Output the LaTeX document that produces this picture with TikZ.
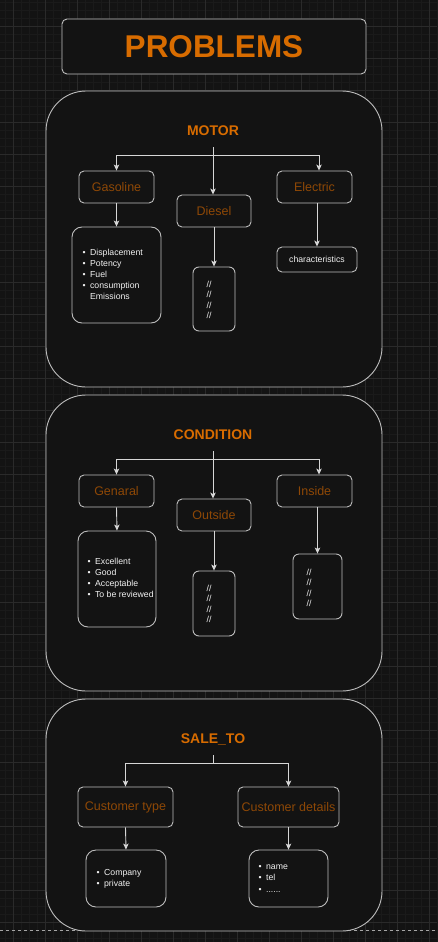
\documentclass[tikz,border=0pt]{standalone}
\usepackage{fontspec}
\setmainfont{Liberation Sans}
\usetikzlibrary{arrows.meta}
\definecolor{bg}{HTML}{131313}
\definecolor{gridminor}{HTML}{1A1A1A}
\definecolor{gridmajor}{HTML}{2A2A2A}
\definecolor{edge}{HTML}{BDBDBD}
\definecolor{arrc}{HTML}{D6D6D6}
\definecolor{orng}{HTML}{D86C00}
\definecolor{brwn}{HTML}{8E4806}
\definecolor{txtc}{HTML}{F2F2F2}
\begin{document}
\begin{tikzpicture}[x=1pt,y=-1pt,
  box/.style={draw=edge, fill=bg, line width=0.9pt, rounded corners=5pt, inner sep=0pt},
  secbox/.style={box, rounded corners=40pt},
  listbox/.style={box, rounded corners=10pt},
  lbl/.style={text=brwn, font=\fontsize{12.5}{14}\selectfont},
  head/.style={text=orng, font=\fontsize{14}{16}\selectfont\bfseries, inner sep=0pt},
  txt/.style={text=txtc, font=\fontsize{8.7}{11}\selectfont, inner sep=0pt},
  sl/.style={text=txtc, font=\fontsize{8.7}{10.5}\selectfont, inner sep=0pt, align=center},
  arr/.style={draw=arrc, line width=0.9pt, -{Stealth[length=6pt,width=5.5pt,inset=1.5pt]}},
  ln/.style={draw=arrc, line width=0.9pt}]
\useasboundingbox (0,0) rectangle (437,942);
\fill[bg] (0,0) rectangle (437,942);
% grid
\foreach \x in {5,13,...,437} \draw[gridminor, line width=0.5pt] (\x,0) -- (\x,942);
\foreach \y in {2,10,...,942} \draw[gridminor, line width=0.5pt] (0,\y) -- (437,\y);
\foreach \x in {13,45,...,437} \draw[gridmajor, line width=0.6pt] (\x,0) -- (\x,942);
\foreach \y in {26,58,...,942} \draw[gridmajor, line width=0.6pt] (0,\y) -- (437,\y);
% page break line
\draw[draw=gray!70, line width=0.6pt, dash pattern=on 3pt off 3pt] (0,930) -- (437,930);

% title
\node[box, minimum width=304pt, minimum height=55pt, text=orng,
      font=\fontsize{31.5}{34}\selectfont\bfseries] (title) at (214,46.5) {PROBLEMS};

% ===== MOTOR =====
\node[secbox, minimum width=336pt, minimum height=296pt] (motor) at (214,239) {};
\node[head] (motorlbl) at (213,131) {MOTOR};
\coordinate (mstem) at (213,147);
\coordinate (mfork) at (213,155);
\node[box, minimum width=75pt, minimum height=32pt, lbl] (gas) at (116.5,187) {Gasoline};
\node[box, minimum width=74pt, minimum height=32pt, lbl] (dies) at (214,211) {Diesel};
\node[box, minimum width=75pt, minimum height=32pt, lbl] (elec) at (314.5,187) {Electric};
\node[listbox, minimum width=89pt, minimum height=96pt] (gasl) at (116.5,275) {};
\node[box, rounded corners=6pt, minimum width=42pt, minimum height=64pt] (diesl) at (214,299) {};
\node[box, minimum width=80pt, minimum height=25pt, txt] (elecl) at (317,259.5) {characteristics};
\draw[ln] (mstem) -- (mfork);
\draw[arr] (mfork) -| (gas.north);
\draw[arr] (mfork) -| ([xshift=4.5pt]elec.north);
\draw[arr] (mstem) -- (mstem |- dies.north);
\draw[arr] (gas.south) -- (gasl.north);
\draw[arr] (diesl.north |- dies.south) -- (diesl.north);
\draw[arr] (elecl.north |- elec.south) -- (elecl.north);
\node[txt, anchor=north west] (gast) at (82.5,247.3)
  {\begin{tabular}{@{}l@{\hspace{4.4pt}}l@{}}•&Displacement\\•&Potency\\•&Fuel\\•&consumption\\&Emissions\end{tabular}};
\node[sl] (dieslt) at (209,300) {//\\//\\//\\//};

% ===== CONDITION =====
\node[secbox, minimum width=336pt, minimum height=296pt] (cond) at (214,543) {};
\node[head] (condlbl) at (213,435) {CONDITION};
\coordinate (cstem) at (213,451);
\coordinate (cfork) at (213,459);
\node[box, minimum width=75pt, minimum height=32pt, lbl] (gen) at (116.5,491) {Genaral};
\node[box, minimum width=74pt, minimum height=32pt, lbl] (outs) at (214,515) {Outside};
\node[box, minimum width=75pt, minimum height=32pt, lbl] (ins) at (314.5,491) {Inside};
\node[listbox, minimum width=78pt, minimum height=96pt] (genl) at (117,579) {};
\node[box, rounded corners=6pt, minimum width=42pt, minimum height=65pt] (outsl) at (214,603.5) {};
\node[box, rounded corners=6pt, minimum width=49pt, minimum height=65pt] (insl) at (317.5,586.5) {};
\draw[ln] (cstem) -- (cfork);
\draw[arr] (cfork) -| (gen.north);
\draw[arr] (cfork) -| ([xshift=4.5pt]ins.north);
\draw[arr] (cstem) -- (cstem |- outs.north);
\draw[arr] (gen.south) -- (genl.north);
\draw[arr] (outsl.north |- outs.south) -- (outsl.north);
\draw[arr] (insl.north |- ins.south) -- (insl.north);
\node[txt, anchor=north west] (gent) at (87.5,556.3)
  {\begin{tabular}{@{}l@{\hspace{4.4pt}}l@{}}•&Excellent\\•&Good\\•&Acceptable\\•&To be reviewed\end{tabular}};
\node[sl] (outslt) at (209,604) {//\\//\\//\\//};
\node[sl] (inslt) at (309,588) {//\\//\\//\\//};

% ===== SALE_TO =====
\node[secbox, minimum width=336pt, minimum height=232pt] (sale) at (214,815) {};
\node[head] (salelbl) at (213,739) {SALE\_TO};
\coordinate (sstem) at (213,755);
\coordinate (sfork) at (213,763);
\node[box, minimum width=95pt, minimum height=40pt, lbl] (ctype) at (125.5,807) {Customer type};
\node[box, minimum width=101pt, minimum height=40pt, lbl] (cdet) at (288.5,807) {Customer details};
\node[listbox, minimum width=80pt, minimum height=57pt] (ctl) at (126,878.5) {};
\node[listbox, minimum width=79pt, minimum height=57pt] (cdl) at (288.5,878.5) {};
\draw[ln] (sstem) -- (sfork);
\draw[arr] (sfork) -| (ctype.north);
\draw[arr] (sfork) -| (cdet.north);
\draw[arr] (ctype.south) -- (ctl.north);
\draw[arr] (cdet.south) -- (cdl.north);
\node[txt, anchor=north west, font=\fontsize{8.7}{10.5}\selectfont] (ctt) at (96.5,868.3)
  {\begin{tabular}{@{}l@{\hspace{4.4pt}}l@{}}•&Company\\•&private\end{tabular}};
\node[txt, anchor=north west, font=\fontsize{8.7}{10.5}\selectfont] (cdt) at (258.5,862.3)
  {\begin{tabular}{@{}l@{\hspace{4.4pt}}l@{}}•&name\\•&tel\\[1.5pt]•&......\end{tabular}};
\end{tikzpicture}
\end{document}
